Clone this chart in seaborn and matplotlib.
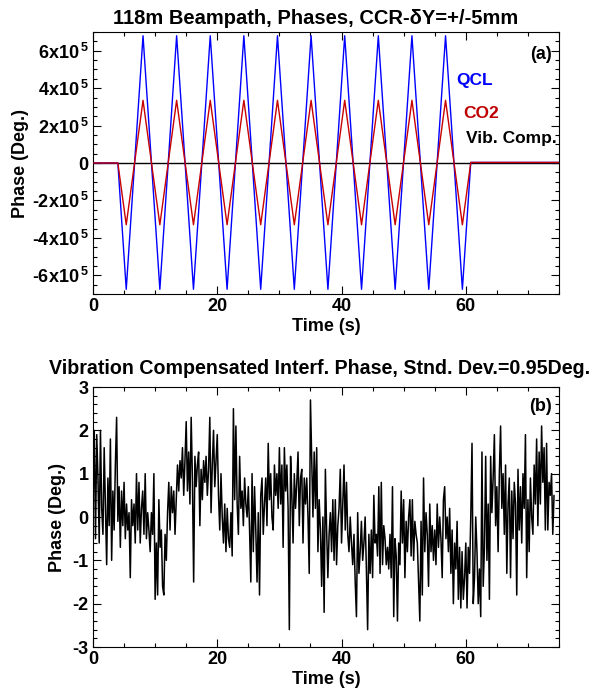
import numpy as np
import pandas as pd
import matplotlib
matplotlib.use("Agg")
import matplotlib.pyplot as plt
from matplotlib.ticker import MultipleLocator, FixedLocator, FuncFormatter
import seaborn as sns

# ---------------- data ----------------
# Panel (a): vertex times (s) of the phase oscillation and values (units of 1e5 deg)
osc_t = [0.0, 4.0, 5.35, 8.05, 10.76, 13.46, 16.17, 18.87, 21.58, 24.28, 26.99,
         29.69, 32.40, 35.10, 37.81, 40.51, 43.22, 45.92, 48.63, 51.33, 54.04,
         56.74, 59.45, 60.8, 75.0]
qcl_v = [0.0, 0.0, -6.75, 6.8, -6.75, 6.8, -6.75, 6.8, -6.75, 6.8, -6.75,
         6.8, -6.75, 6.8, -6.75, 6.8, -6.75, 6.8, -6.75, 6.8, -6.75,
         6.8, -6.75, 0.03, 0.03]
co2_v = [0.0, 0.0, -3.3, 3.35, -3.3, 3.35, -3.3, 3.35, -3.3, 3.35, -3.3,
         3.35, -3.3, 3.35, -3.3, 3.35, -3.3, 3.35, -3.3, 3.35, -3.3,
         3.35, -3.3, 0.03, 0.03]
vib_t = [0.0, 75.0]
vib_v = [0.0, 0.0]

# Panel (b): vibration compensated phase (deg), one value every 0.2 s
dt_b = 0.2
phase_b = [
    0.3, 2.0, -0.5, 1.9, 0.9,   -0.6, 2.0, 0.2, -0.4, 1.6,
    0.3, -1.1, 0.9, -0.2, 1.8,  -1.0, 0.6, -0.3, 1.2, 2.3,
    -0.1, 0.7, -0.7, 0.6, -0.2, 0.8, -0.5, 0.3, -0.3, 0.1,
    -1.4, 0.4, -0.2, 0.3, -0.6, 1.0, -0.3, 0.8, -0.6, 0.2,
    0.6, -0.4, 1.0, -0.5, 0.1,  -0.3, -0.8, 0.1, -0.4, 1.0,
    -1.9, -0.6, -1.8, 0.4, -0.7, -0.3, -1.6, -1.8, -0.4, -1.0,
    0.1, 0.8, -0.3, 0.7, 0.1,   0.6, -0.4, 0.4, 1.2, 0.6,
    1.3, 0.9, 1.6, 0.5, 1.3,    2.2, 0.6, 1.5, 0.3, 2.3,
    0.9, -1.5, 1.4, 0.7, 1.2,   1.5, -0.2, 1.1, 0.4, 1.3,
    0.8, 1.4, 0.5, 1.1, 2.3,    0.1, 1.2, 2.0, 0.7, 1.3,
    1.9, 0.5, -0.3, 1.0, 0.0,   -0.6, 0.3, -0.8, 0.2, -0.5,
    -0.7, 0.1, -0.9, 2.5, 0.4,  2.1, 0.3, -0.4, 1.4, 0.2,
    0.6, -0.2, 0.9, 0.3, 0.0,   0.7, -0.3, -1.5, 1.0, -0.8,
    0.7, -0.3, -1.5, 0.1, -1.8, 0.5, 0.9, -0.4, 0.3, 0.9,
    -0.2, 1.7, 0.4, 1.0, 0.0,   -0.3, 1.2, 0.5, 1.0, 0.2,
    1.6, 0.3, 1.2, -0.7, 1.6,   0.6, 1.2, 0.2, -2.6, 1.4,
    0.5, -0.6, 1.0, 0.2, 0.8,   1.5, -0.2, 0.9, 1.1, -0.6,
    0.9, 0.3, 0.9, 0.0, -1.3,   2.7, 1.3, 0.0, 1.5, 0.2,
    1.6, -0.8, 0.4, -0.3, -1.6, 0.0, -2.2, 1.1, -0.3, -1.4,
    -0.4, 0.1, -0.8, 0.4, -1.0, 0.4, -1.1, -0.2, 0.2, 1.1,
    -0.6, 0.3, 1.2, -0.3, 0.8,  -0.4, -0.8, 0.0, -0.6, -1.1,
    -0.4, -1.5, -2.3, 0.1, -1.3, -0.8, -0.1, -1.0, -0.6, 0.0,
    -1.2, -2.6, -0.4, -1.3, -0.3, -1.4, 0.5, -0.6, -0.4, -0.9,
    0.7, -1.3, 0.8, -1.1, -0.2, -0.5, -1.1, -0.7, -1.2, -0.4,
    -1.4, 0.7, -2.3, -0.5, -0.9, -2.4, -0.6, -1.1, 0.6, -0.6,
    0.4, -1.4, -0.1, -0.8, 0.0, 0.4, -0.9, 0.4, -1.0, -0.1,
    -0.4, -0.6, -1.5, -2.4, -0.1, -1.8, 0.9, -0.8, 0.1, -0.4,
    -1.6, 0.3, -0.8, -0.2, -1.0, -0.3, -1.1, 0.3, -0.7, 0.0,
    -0.5, -1.4, 0.4, 0.7, -0.5, 0.0, -0.8, 0.2, -1.3, -0.3,
    -2.0, -0.6, -1.2, -0.1, -1.9, -0.7, -2.1, -0.8, -1.9, -1.4,
    -0.6, -2.1, -0.7, -1.3, 0.0, 1.7, -2.0, -1.4, 0.0, -0.8,
    -2.0, -1.2, -2.3, 1.5, -1.6, -0.7, 1.4, -1.0, 0.3, -1.9,
    1.4, 0.1, 0.9, 1.9, -0.2,   0.7, -0.8, 1.0, 2.1, 0.2,
    1.0, -0.4, 1.2, -1.3, 0.3,  0.9, -1.4, 0.6, -0.5, 0.8,
    0.3, -1.8, 1.1, -0.3, 0.7,  -0.6, 1.0, 0.2, 1.9, -1.4,
    0.4, -0.8, 0.9, 0.0, -0.4,  1.2, 0.3, 1.8, -0.2, 1.5,
    0.3, 2.1, 0.8, 1.6, -0.3,   1.7, -0.3, 0.8, 0.5, 1.0,
    -0.4, 0.5,
]

# ---------------- style ----------------
sns.set_theme(style="ticks")
plt.rcParams['font.family'] = ['Liberation Sans', 'DejaVu Sans']
plt.rcParams['font.weight'] = 'bold'
plt.rcParams['axes.labelweight'] = 'bold'
plt.rcParams['axes.titleweight'] = 'bold'
plt.rcParams['mathtext.fontset'] = 'custom'
plt.rcParams['mathtext.rm'] = 'Liberation Sans:bold'
plt.rcParams['mathtext.bf'] = 'Liberation Sans:bold'
plt.rcParams['mathtext.it'] = 'Liberation Sans:bold'
plt.rcParams['axes.unicode_minus'] = False
for k in ['text.color', 'axes.labelcolor', 'xtick.color', 'ytick.color',
          'axes.edgecolor']:
    plt.rcParams[k] = 'black'

FS = 13        # tick labels / axis labels
FL = 12.5      # in-plot labels

fig = plt.figure(figsize=(5.93, 6.96), dpi=100)
ax1 = fig.add_axes([93/593, 1-294/696, (559-93)/593, (294-32)/696])
ax2 = fig.add_axes([93/593, 1-647/696, (559-93)/593, (647-387)/696])

def style_axes(ax):
    for s in ax.spines.values():
        s.set_linewidth(0.8)
        s.set_color('black')
    ax.tick_params(which='both', direction='in', top=True, right=True,
                   labelsize=FS, width=0.8, color='black', labelcolor='black',
                   pad=3)
    ax.tick_params(which='major', length=5.5)
    ax.tick_params(which='minor', length=3)
    ax.xaxis.set_major_locator(MultipleLocator(20))
    ax.xaxis.set_minor_locator(MultipleLocator(5))
    ax.set_xlim(0, 75)
    for lab in ax.get_xticklabels() + ax.get_yticklabels():
        lab.set_fontweight('bold')

# ---------------- panel (a) ----------------
df_q = pd.DataFrame({'t': osc_t, 'v': np.array(qcl_v) * 1e5})
df_c = pd.DataFrame({'t': osc_t, 'v': np.array(co2_v) * 1e5})
df_v = pd.DataFrame({'t': vib_t, 'v': vib_v})
sns.lineplot(data=df_v, x='t', y='v', ax=ax1, color='black', linewidth=1.0,
             sort=False, estimator=None, zorder=1)
sns.lineplot(data=df_q, x='t', y='v', ax=ax1, color='#0000ff', linewidth=1.0,
             sort=False, estimator=None, zorder=2)
sns.lineplot(data=df_c, x='t', y='v', ax=ax1, color='#c80000', linewidth=1.0,
             sort=False, estimator=None, zorder=3)
style_axes(ax1)
ax1.set_ylim(-7e5, 7e5)
ax1.yaxis.set_major_locator(FixedLocator([-6e5, -4e5, -2e5, 0, 2e5, 4e5, 6e5]))
ax1.yaxis.set_minor_locator(MultipleLocator(5e4))

def fmt_sci(v, pos):
    n = int(round(v / 1e5))
    if n == 0:
        return '0'
    return f'{n}x10' + r'$^{\,5}$'

ax1.yaxis.set_major_formatter(FuncFormatter(fmt_sci))
ax1.set_xlabel('Time (s)', fontsize=FS, fontweight='bold', labelpad=2)
ax1.set_ylabel('Phase (Deg.)', fontsize=FS, fontweight='bold', labelpad=2)
ax1.set_title('')
fig.text(316 / 593, 1 - 19 / 696, '118m Beampath, Phases, CCR-δY=+/-5mm',
         ha='center', va='center', fontsize=14.5, fontweight='bold')
ax1.text(0.985, 0.915, '(a)', transform=ax1.transAxes, ha='right', va='center',
         fontsize=FS, fontweight='bold')
legend_items = [('QCL', 475, 80, 'center', '#0000ff'),
                ('CO2', 481, 113, 'center', '#c00000'),
                ('Vib. Comp.', 557, 138, 'right', 'black')]
for txt, px, py, ha, col in legend_items:
    fig.text(px / 593, 1 - py / 696, txt, ha=ha, va='center',
             fontsize=FL, fontweight='bold', color=col)

# ---------------- panel (b) ----------------
t_b = np.arange(len(phase_b)) * dt_b
df_b = pd.DataFrame({'t': t_b, 'v': phase_b})
sns.lineplot(data=df_b, x='t', y='v', ax=ax2, color='black', linewidth=1.1,
             sort=False, estimator=None)
style_axes(ax2)
ax2.set_ylim(-3.0, 3.0)
ax2.yaxis.set_major_locator(MultipleLocator(1))
ax2.yaxis.set_minor_locator(MultipleLocator(0.2))
ax2.yaxis.set_major_formatter(FuncFormatter(lambda v, p: f'{int(round(v))}'))
ax2.set_xlabel('Time (s)', fontsize=FS, fontweight='bold', labelpad=2)
ax2.set_ylabel('Phase (Deg.)', fontsize=FS, fontweight='bold', labelpad=5)
fig.text(320 / 593, 1 - 369 / 696,
         'Vibration Compensated Interf. Phase, Stnd. Dev.=0.95Deg.',
         ha='center', va='center', fontsize=14.1, fontweight='bold')
ax2.text(0.985, 0.925, '(b)', transform=ax2.transAxes, ha='right', va='center',
         fontsize=FS, fontweight='bold')

fig.savefig('out.png', dpi=100)
